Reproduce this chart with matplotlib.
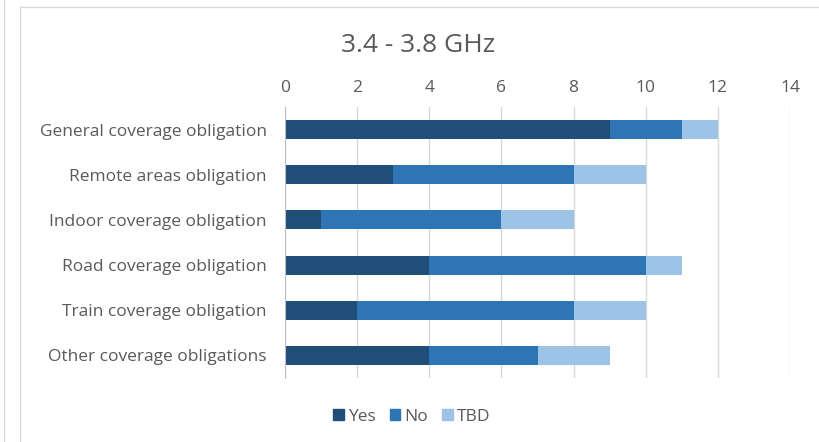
import matplotlib.pyplot as plt
from matplotlib.patches import Rectangle
from matplotlib.lines import Line2D

plt.rcParams["font.family"] = ["Open Sans", "DejaVu Sans"]

categories = [
    "General coverage obligation",
    "Remote areas obligation",
    "Indoor coverage obligation",
    "Road coverage obligation",
    "Train coverage obligation",
    "Other coverage obligations",
]
yes = [9, 3, 1, 4, 2, 4]
no = [2, 5, 5, 6, 6, 3]
tbd = [1, 2, 2, 1, 2, 2]
series = ["Yes", "No", "TBD"]
colors = ["#1F4E79", "#2E75B6", "#9DC3E6"]
ticks = [0, 2, 4, 6, 8, 10, 12, 14]

text_col = "#595959"

fig = plt.figure(figsize=(8.19, 4.42), dpi=100)
W, H = 819, 442
ax = fig.add_axes([285 / W, 1 - 378 / H, (790 - 285) / W, (378 - 107) / H])

ypos = list(range(len(categories)))
left = [0] * len(categories)
for vals, name, c in zip([yes, no, tbd], series, colors):
    ax.barh(ypos, vals, left=left, height=0.42, color=c, label=name, zorder=3)
    left = [l + v for l, v in zip(left, vals)]

ax.set_xlim(0, 14)
ax.set_ylim(5.5, -0.5)
ax.set_xticks(ticks)
ax.xaxis.tick_top()
ax.set_yticks(ypos)
ax.set_yticklabels(categories)
ax.tick_params(axis="both", length=0, colors=text_col, labelsize=12.5)
ax.tick_params(axis="x", pad=8)
ax.tick_params(axis="y", pad=13)
ax.grid(axis="x", color="#d9d9d9", linewidth=1, zorder=0)
for s in ["top", "right", "bottom"]:
    ax.spines[s].set_visible(False)
ax.spines["left"].set_color("#bfbfbf")
ax.spines["left"].set_zorder(4)

fig.text(418 / W, 1 - 46 / H, "3.4 - 3.8 GHz", ha="center", va="center",
         fontsize=19, color=text_col)

handles = [Rectangle((0, 0), 1, 1, color=c) for c in colors]
fig.legend(handles, series, loc="center", bbox_to_anchor=(412 / W, 1 - 417 / H),
           ncol=3, frameon=False, fontsize=12.5, labelcolor=text_col,
           handlelength=0.6, handleheight=0.6, handletextpad=0.25, columnspacing=0.8)

# outer frame lines
fig.add_artist(Line2D([4 / W, 4 / W], [0, 1], color="#d9d9d9", lw=1))
fig.add_artist(Line2D([20 / W, 20 / W], [0, 1 - 7 / H], color="#d9d9d9", lw=1))
fig.add_artist(Line2D([20 / W, 1], [1 - 7 / H, 1 - 7 / H], color="#d9d9d9", lw=1))

fig.savefig("out.png", dpi=100)
